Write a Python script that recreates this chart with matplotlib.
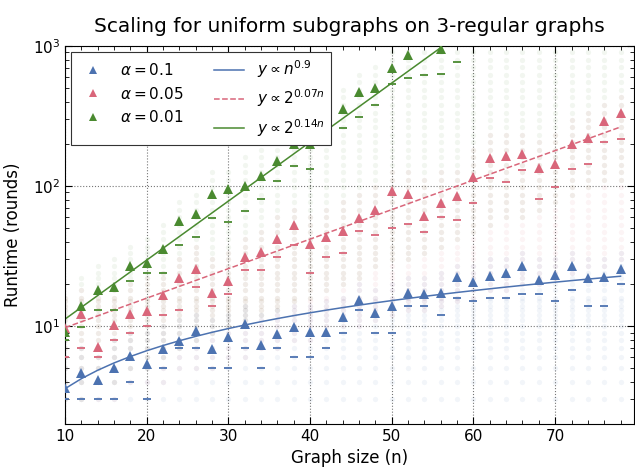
import numpy as np
import matplotlib.pyplot as plt
from matplotlib.ticker import MultipleLocator, LogLocator, NullFormatter

# graph sizes (n)
n = list(range(10, 80, 2))

# alpha = 0.1 (blue)
blue_tri = [3.6, 4.6, 4.1, 5.0, 6.1, 5.4, 6.9, 7.8, 9.2, 6.9, 8.3, 10.4, 7.3, 8.8, 9.9, 9.1, 9.1, 11.6,
            15.3, 12.4, 13.9, 17.3, 16.9, 17.1, 22.5, 20.5, 22.9, 23.8, 26.7, 21.4, 23.0, 26.9, 22.1, 22.6, 25.6]
blue_dash = [3, 3, 3, 3, 4, 3, 5, 7, 7, 5, 5, 7, 5, 7, 6, 6, 7, 9, 13, 9, 9, 14, 14, 12, 16, 15,
             16, 16, 17, 17, 15, 18, 14, 14, 20]
blue_hi = [6, 7, 7, 8, 9, 9, 10, 11, 12, 11, 12, 14, 12, 13, 14, 14, 15, 17, 20, 18, 20, 23, 23, 24,
           28, 27, 30, 30, 33, 30, 32, 34, 32, 32, 36]
blue_lo = [3] * 35

# alpha = 0.05 (red)
red_tri = [9.7, 12.3, 7.1, 10.2, 12.2, 12.8, 16.7, 21.9, 25.4, 17.2, 21.1, 30.9, 34, 41.6, 52.4, 38.5,
           43, 48, 58.7, 67, 92, 88, 60.7, 76, 85, 116, 158, 163, 170, 135, 144, 200, 221, 291, 334]
red_dash = [6, 7, 6, 8, 9, 10, 12, 13, 19, 14, 17, 25, 25, 31, 38, 24, 31, 33, 48, 45, 50, 54, 47,
            60, 57, 76, 115, 107, 130, 81, 98, 132, 144, 207, 217]
red_hi = [16, 18, 16, 18, 20, 22, 26, 32, 38, 32, 36, 45, 52, 62, 75, 62, 70, 80, 95, 105, 135, 135,
          110, 130, 140, 180, 240, 250, 260, 220, 240, 310, 340, 420, 480]
red_lo = [3, 3, 3, 3, 4, 4, 4, 5, 5, 5, 6, 6, 7, 7, 8, 8, 9, 10, 10, 11, 12, 13, 13, 14, 15, 16, 18,
          18, 20, 20, 22, 24, 25, 26, 28]

# alpha = 0.01 (green), points above 10^3 fall off the chart
green_tri = [9.1, 13.9, 18.1, 19.1, 26.9, 28.4, 35.3, 56, 63.6, 87.5, 94.6, 100, 118, 152, 199, 199,
             283, 353, 472, 504, 700, 862, 1150, 952, 1400, 1500, 1900, 2100, 2600, 2900, 3500,
             4000, 4800, 5600, 6500]
green_dash = [8, 9.9, 13, 13, 21, 24, 24, 38, 43, 59, 55, 66, 81, 108, 140, 133, 221, 258, 313, 379,
              532, 594, 621, 631, 773, 1050, 1200, 1400, 1600, 1900, 2200, 2500, 2900, 3300, 3800]
green_hi = [16, 22, 28, 30, 40, 45, 55, 85, 95, 130, 140, 160, 180, 230, 300, 300, 420, 520, 700, 760,
            1000, 1000, 1000, 1000, 1000, 1000, 1000, 1000, 1000, 1000, 1000, 1000, 1000, 1000, 1000]
green_lo = [3, 3, 4, 4, 5, 5, 6, 7, 8, 9, 10, 11, 12, 13, 15, 16, 18, 20, 22, 25, 28, 30, 33, 36, 40,
            45, 50, 55, 60, 65, 70, 80, 90, 100, 110]

# runtime values seen as rows of faint dots
levels = [3, 4, 5, 6, 7, 8, 9, 10, 11, 12, 13, 14, 15, 16, 18, 20, 22, 24, 27, 30, 33,
          37, 42, 47, 53, 60, 68, 77, 87, 98, 110, 125, 142, 160, 180, 205, 232,
          262, 296, 335, 380, 430, 486, 550, 622, 704, 796, 900, 1010]

# fitted curves
c_poly, p_poly = 0.45, 0.9
c_red, k_red = 6.0, 0.07
c_green, k_green = 4.25, 0.14

BLUE = '#4c72b0'
RED = '#d9667a'
GREEN = '#4a8a30'

fig = plt.figure(figsize=(6.35, 4.68), dpi=100)
ax = fig.add_axes([65 / 635, 1 - 424 / 468, 569 / 635, 378 / 468])

lev = np.array(levels)
for lo, hi, col in [(green_lo, green_hi, GREEN), (red_lo, red_hi, RED), (blue_lo, blue_hi, BLUE)]:
    xs, ys = [], []
    for i in range(len(n)):
        v = lev[(lev >= lo[i]) & (lev <= hi[i])]
        xs += [n[i]] * len(v)
        ys += list(v)
    ax.plot(xs, ys, 'o', color=col, alpha=0.07, markersize=3.8, markeredgewidth=0, zorder=1)

nn = np.array(n, dtype=float)
ax.plot(n, blue_dash, '_', color=BLUE, markersize=6, markeredgewidth=1.3, zorder=3)
ax.plot(n, red_dash, '_', color=RED, markersize=6, markeredgewidth=1.3, zorder=3)
ax.plot(n, green_dash, '_', color=GREEN, markersize=6, markeredgewidth=1.3, zorder=3)

ax.plot(n, blue_tri, '^', color=BLUE, markersize=7, markeredgewidth=0, label=r'$\alpha = 0.1$', zorder=4)
ax.plot(n, red_tri, '^', color=RED, markersize=7, markeredgewidth=0, label=r'$\alpha = 0.05$', zorder=4)
ax.plot(n, green_tri, '^', color=GREEN, markersize=7, markeredgewidth=0, label=r'$\alpha = 0.01$', zorder=4)

ax.plot(nn, c_poly * nn ** p_poly, '-', color=BLUE, linewidth=1.1, label=r'$y \propto n^{0.9}$', zorder=2)
ax.plot(nn, c_red * 2 ** (k_red * nn), '--', color=RED, linewidth=1.1, label=r'$y \propto 2^{0.07n}$', zorder=2)
ax.plot(nn, c_green * 2 ** (k_green * nn), '-', color=GREEN, linewidth=1.1, label=r'$y \propto 2^{0.14n}$', zorder=2)

ax.set_yscale('log')
ax.set_xlim(10, 79.65)
ax.set_ylim(2.0, 1000)
ax.xaxis.set_major_locator(MultipleLocator(10))
ax.xaxis.set_minor_locator(MultipleLocator(2))
ax.yaxis.set_major_locator(LogLocator(base=10))
ax.yaxis.set_minor_locator(LogLocator(base=10, subs=np.arange(2, 10)))
ax.yaxis.set_minor_formatter(NullFormatter())
ax.tick_params(which='both', direction='in', top=True, right=True, labelsize=11)
ax.tick_params(which='major', length=5)
ax.tick_params(which='minor', length=3)
ax.grid(True, which='major', linestyle=':', color='#777777', linewidth=0.8)
ax.set_axisbelow(True)

ax.set_title('Scaling for uniform subgraphs on 3-regular graphs', fontsize=14.5, pad=10)
ax.set_xlabel('Graph size (n)', fontsize=12, labelpad=4)
ax.set_ylabel('Runtime (rounds)', fontsize=12, labelpad=8)

leg = ax.legend(loc='upper left', ncol=2, fontsize=11, markerscale=0.75, fancybox=False,
                edgecolor='#333333', framealpha=1, borderaxespad=0.4)
leg.get_frame().set_linewidth(0.8)

plt.savefig('out.png', dpi=100)
